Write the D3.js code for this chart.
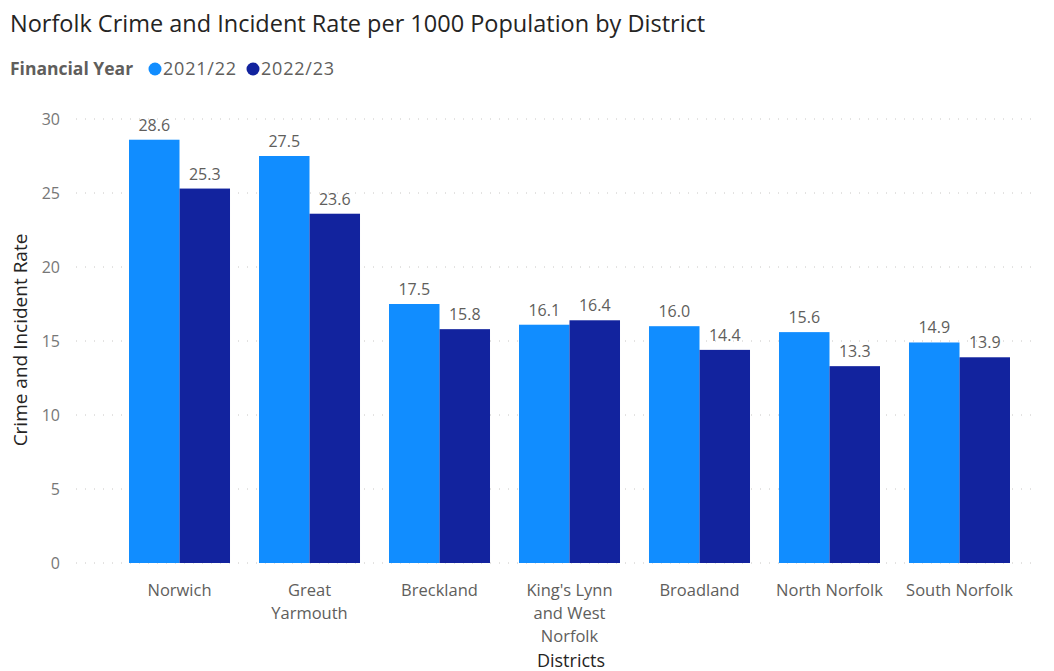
<!DOCTYPE html>
<html>
<head>
<meta charset="utf-8">
<script src="https://cdn.jsdelivr.net/npm/d3@7"></script>
<style>
  body { margin: 0; background: #fff; }
  svg { display: block; font-family: "Open Sans", sans-serif; }
</style>
</head>
<body>
<svg id="chart" width="1054" height="671"></svg>
<script>
// District crime and incident rates per 1000 population
const districts = ["Norwich", "Great Yarmouth", "Breckland", "King's Lynn and West Norfolk", "Broadland", "North Norfolk", "South Norfolk"];
const districtLines = [["Norwich"], ["Great", "Yarmouth"], ["Breckland"], ["King's Lynn", "and West", "Norfolk"], ["Broadland"], ["North Norfolk"], ["South Norfolk"]];
const seriesNames = ["2021/22", "2022/23"];
const rate2021 = [28.6, 27.5, 17.5, 16.1, 16.0, 15.6, 14.9];
const rate2022 = [25.3, 23.6, 15.8, 16.4, 14.4, 13.3, 13.9];
const yTicks = [0, 5, 10, 15, 20, 25, 30];
const colors = ["#118DFF", "#12239E"];

const svg = d3.select("#chart");
const plot = { left: 76, right: 1032, top: 119, bottom: 563 };

const x = d3.scaleBand().domain(districts).range([129, 1010]).paddingInner(0.223).paddingOuter(0);
const xs = d3.scaleBand().domain(seriesNames).range([0, x.bandwidth()]);
const y = d3.scaleLinear().domain([0, 30]).range([plot.bottom, plot.top]);

// Title
svg.append("text").attr("x", 10).attr("y", 32)
  .attr("font-size", 23.5).attr("fill", "#252423")
  .text("Norfolk Crime and Incident Rate per 1000 Population by District");

// Legend
const legend = svg.append("g").attr("transform", "translate(10,75)");
legend.append("text").attr("x", 0).attr("y", 0).attr("font-size", 17.5).attr("font-weight", "bold").attr("fill", "#605E5C").text("Financial Year");
const legendItems = [{ x: 155, name: seriesNames[0], c: colors[0] }, { x: 253, name: seriesNames[1], c: colors[1] }];
legendItems.forEach(d => {
  legend.append("circle").attr("cx", d.x - 10).attr("cy", -6).attr("r", 6.5).attr("fill", d.c);
  legend.append("text").attr("x", d.x - 2).attr("y", 0).attr("font-size", 18).attr("letter-spacing", 0.8).attr("fill", "#605E5C").text(d.name);
});

// Gridlines
const grid = svg.append("g");
grid.selectAll("line").data(yTicks).join("line")
  .attr("x1", plot.left).attr("x2", plot.right)
  .attr("y1", d => y(d)).attr("y2", d => y(d))
  .attr("stroke", "#C8C6C4").attr("stroke-width", 1).attr("stroke-dasharray", "1,8");

// Y axis
const yAxis = svg.append("g").attr("transform", `translate(${plot.left - 16},0)`)
  .call(d3.axisLeft(y).tickValues(yTicks).tickSize(0).tickPadding(0));
yAxis.select(".domain").remove();
yAxis.selectAll("text").attr("font-size", 16).attr("fill", "#777777").attr("font-family", "Open Sans, sans-serif").attr("dy", "0.35em");

svg.append("text")
  .attr("transform", `translate(27,${(plot.top + plot.bottom) / 2 - 1}) rotate(-90)`)
  .attr("text-anchor", "middle").attr("font-size", 19).attr("fill", "#252423")
  .text("Crime and Incident Rate");

// Bars
const rows = districts.map((d, i) => ({ district: d, values: [rate2021[i], rate2022[i]] }));
const groups = svg.append("g").selectAll("g").data(rows).join("g")
  .attr("transform", d => `translate(${x(d.district)},0)`);
groups.selectAll("rect").data(d => d.values.map((v, j) => ({ v, s: seriesNames[j], c: colors[j] }))).join("rect")
  .attr("x", d => xs(d.s)).attr("width", xs.bandwidth())
  .attr("y", d => y(d.v)).attr("height", d => y(0) - y(d.v))
  .attr("fill", d => d.c);
groups.selectAll("text").data(d => d.values.map((v, j) => ({ v, s: seriesNames[j] }))).join("text")
  .attr("x", d => xs(d.s) + xs.bandwidth() / 2).attr("y", d => y(d.v) - 9)
  .attr("text-anchor", "middle").attr("font-size", 16).attr("fill", "#605E5C")
  .text(d => d.v.toFixed(1));

// X labels
const xl = svg.append("g").selectAll("text").data(districts).join("text")
  .attr("x", d => x(d) + x.bandwidth() / 2).attr("y", 596)
  .attr("text-anchor", "middle").attr("font-size", 16.5).attr("fill", "#605E5C");
xl.each(function (d, i) {
  d3.select(this).selectAll("tspan").data(districtLines[i]).join("tspan")
    .attr("x", x(d) + x.bandwidth() / 2).attr("dy", (t, k) => k === 0 ? 0 : 23).text(t => t);
});

svg.append("text").attr("x", 571).attr("y", 667)
  .attr("text-anchor", "middle").attr("font-size", 18).attr("fill", "#252423")
  .text("Districts");
</script>
</body>
</html>
